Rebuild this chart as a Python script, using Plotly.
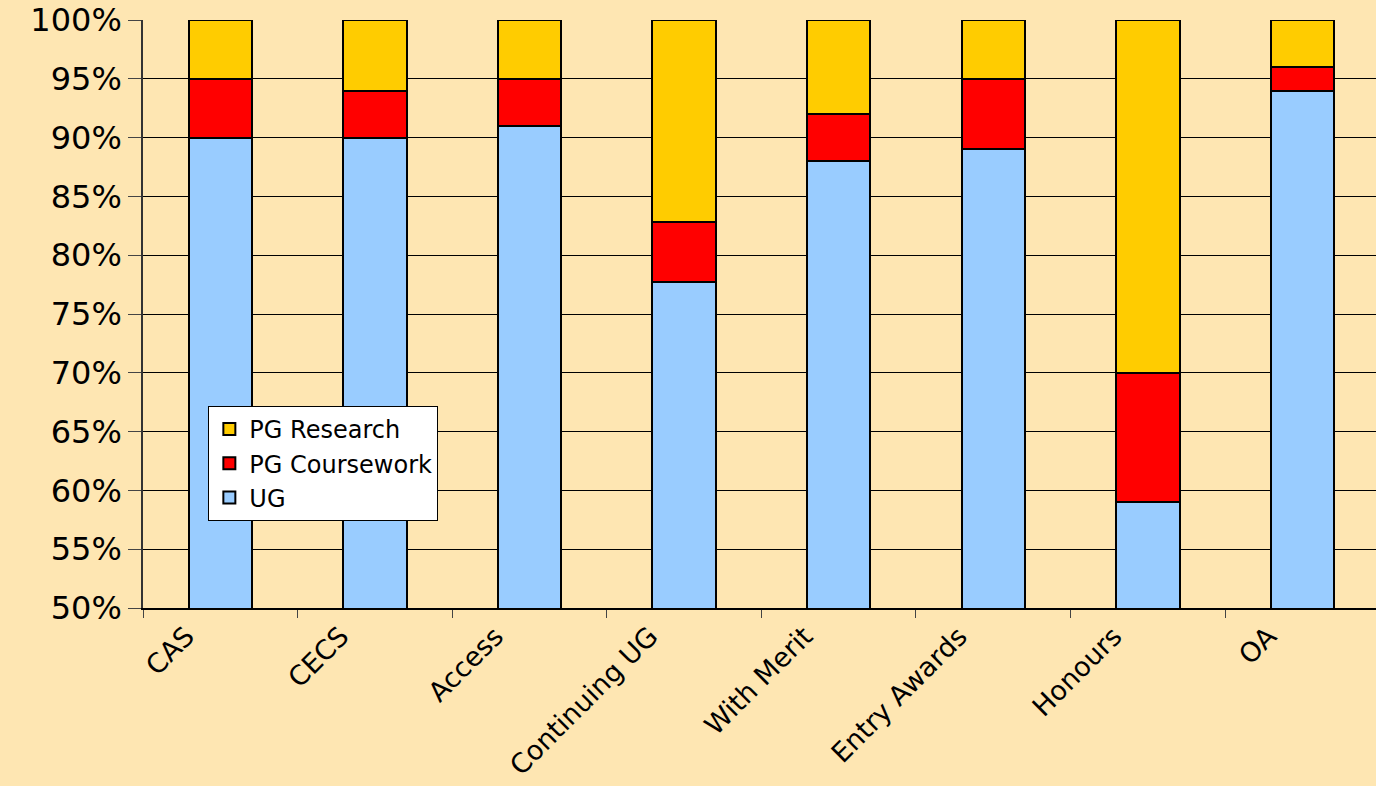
import plotly.graph_objects as go

categories = ["CAS", "CECS", "Access", "Continuing UG", "With Merit", "Entry Awards", "Honours", "OA"]
ug = [90, 90, 91, 77.7, 88, 89, 59, 94]
pg_coursework = [5, 4, 4, 5.1, 4, 6, 11, 2]
pg_research = [5, 6, 5, 17.2, 8, 5, 30, 4]

BG = "#FEE6B2"

fig = go.Figure()
line = dict(color="black", width=2)
fig.add_trace(go.Bar(x=categories, y=ug, name="UG", marker=dict(color="#99CCFF", line=line), width=0.41))
fig.add_trace(go.Bar(x=categories, y=pg_coursework, name="PG Coursework", marker=dict(color="#FF0000", line=line), width=0.41))
fig.add_trace(go.Bar(x=categories, y=pg_research, name="PG Research", marker=dict(color="#FFCC00", line=line), width=0.41))

fig.update_layout(
    barmode="stack",
    width=1376, height=786,
    margin=dict(l=143, r=0, t=20, b=178),
    paper_bgcolor=BG,
    plot_bgcolor=BG,
    font=dict(family="DejaVu Sans", color="black"),
    showlegend=True,
    legend=dict(
        x=0.053, y=0.3435, xanchor="left", yanchor="top",
        traceorder="reversed",
        bgcolor="white", bordercolor="black", borderwidth=1,
        font=dict(size=24, family="DejaVu Sans"),
        itemwidth=30,
    ),
    xaxis=dict(
        type="category",
        range=[-0.5, 7.476],
        automargin=False,
        showgrid=False,
        showline=True, linecolor="black", linewidth=1.5,
        ticks="outside", tickson="boundaries", ticklen=8, tickcolor="#444",
        tickangle=-45,
        ticklabelshift=-34,
        ticklabelstandoff=0,
        tickfont=dict(size=27, family="DejaVu Sans"),
    ),
    yaxis=dict(
        range=[50, 100],
        dtick=5,
        ticksuffix="%",
        automargin=False,
        showgrid=True, gridcolor="black", gridwidth=1,
        showline=True, linecolor="#333", linewidth=1.5,
        ticks="outside", ticklen=13, tickcolor="#444",
        tickfont=dict(size=32, family="DejaVu Sans"),
        zeroline=False,
    ),
)

fig.write_html(
    "out.html",
    config={"displayModeBar": False},
    post_script="document.body.style.margin='0';document.body.style.background='" + BG + "';document.body.style.overflow='hidden';",
)
